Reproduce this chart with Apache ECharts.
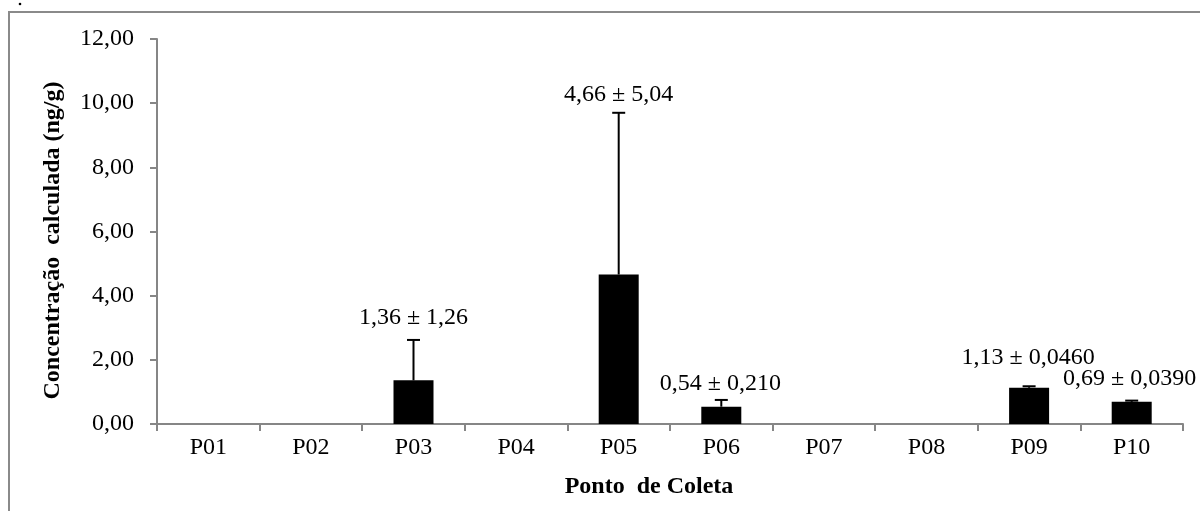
<!DOCTYPE html>
<html><head><meta charset="utf-8">
<script src="https://cdn.jsdelivr.net/npm/echarts@6/dist/echarts.min.js"></script>
<style>html,body{margin:0;padding:0;background:#fff}#c{width:1200px;height:511px}</style>
</head><body><div id="c"></div>
<script>
const categories = ['P01','P02','P03','P04','P05','P06','P07','P08','P09','P10'];
const means = [null, null, 1.36, null, 4.66, 0.54, null, null, 1.13, 0.69];
const sds = [null, null, 1.26, null, 5.04, 0.210, null, null, 0.0460, 0.0390];
const sdDecimals = [0, 0, 2, 0, 2, 3, 0, 0, 4, 4];
const yMin = 0, yMax = 12, yStep = 2;
// label placement (styling only): [dx, dy] from top of error bar
const labelOffsets = [[0,0],[0,0],[0,-22],[0,0],[0,-18],[-1,-16],[0,0],[0,0],[-1,-29],[-2,-22]];

const FONT = "'Liberation Serif','Times New Roman',serif";
const FS = 24;
const fmt = (v, d) => v.toFixed(d).replace('.', ',');

const errData = [];
categories.forEach((c, i) => { if (means[i] != null) errData.push([i, means[i], sds[i]]); });

const chart = echarts.init(document.getElementById('c'), null, {renderer: 'canvas'});
chart.setOption({
  animation: false,
  backgroundColor: '#fff',
  grid: {left: 157, right: 17, top: 39, bottom: 87, containLabel: false},
  graphic: [
    {type: 'rect', shape: {x: 9, y: 12, width: 1200, height: 520}, style: {fill: 'none', stroke: '#8a8a8a', lineWidth: 2}, z: 0},
    {type: 'circle', shape: {cx: 20, cy: 4, r: 1.3}, style: {fill: '#000'}}
  ],
  xAxis: {
    type: 'category', data: categories,
    name: 'Ponto  de Coleta', nameLocation: 'middle', nameGap: 51,
    nameTextStyle: {fontFamily: FONT, fontSize: FS, fontWeight: 'bold', color: '#000', padding: [0, 42, 0, 0]},
    axisLine: {lineStyle: {color: '#868686', width: 2}},
    axisTick: {show: true, length: 7, lineStyle: {color: '#868686', width: 2}},
    axisLabel: {fontFamily: FONT, fontSize: FS, color: '#000', margin: 12}
  },
  yAxis: {
    type: 'value', min: yMin, max: yMax, interval: yStep,
    name: 'Concentração  calculada (ng/g)', nameLocation: 'middle', nameGap: 92, nameRotate: 90,
    nameTextStyle: {fontFamily: FONT, fontSize: FS, fontWeight: 'bold', color: '#000', padding: [0, 18, 0, 0]},
    axisLine: {show: true, lineStyle: {color: '#868686', width: 2}},
    axisTick: {show: true, length: 7, lineStyle: {color: '#868686', width: 2}},
    splitLine: {show: false},
    axisLabel: {fontFamily: FONT, fontSize: FS, color: '#000', margin: 23, formatter: v => fmt(v, 2)}
  },
  series: [
    {type: 'bar', data: means, barWidth: 40, itemStyle: {color: '#000'}, z: 2},
    {
      type: 'custom', data: errData, z: 3,
      renderItem: function (params, api) {
        const i = api.value(0), m = api.value(1), s = api.value(2);
        const base = api.coord([i, m]);
        const top = api.coord([i, m + s]);
        const off = labelOffsets[i];
        return {type: 'group', children: [
          {type: 'line', shape: {x1: base[0], y1: base[1], x2: top[0], y2: top[1]}, style: {stroke: '#000', lineWidth: 2}},
          {type: 'line', shape: {x1: top[0] - 6.5, y1: top[1], x2: top[0] + 6.5, y2: top[1]}, style: {stroke: '#000', lineWidth: 2}},
          {type: 'text', x: top[0] + off[0], y: top[1] + off[1],
           style: {text: fmt(m, 2) + ' \u00b1 ' + fmt(s, sdDecimals[i]), fill: '#000', fontFamily: FONT, fontSize: FS, align: 'center', verticalAlign: 'middle'}}
        ]};
      }
    }
  ]
});
</script></body></html>
